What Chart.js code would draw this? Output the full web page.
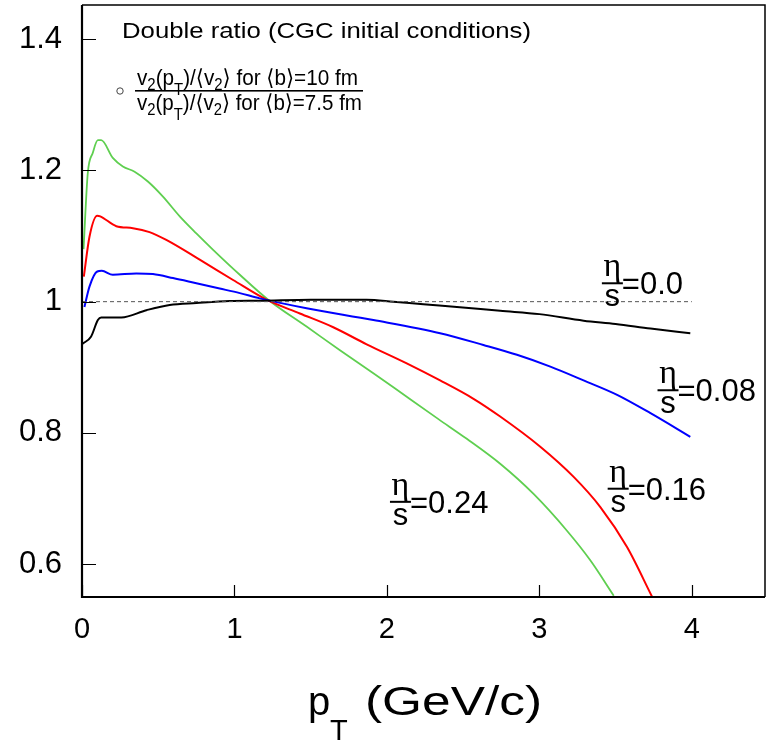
<!DOCTYPE html>
<html>
<head>
<meta charset="utf-8">
<script src="https://cdn.jsdelivr.net/npm/chart.js@4.4.1/dist/chart.umd.min.js"></script>
<style>
html, body { margin: 0; padding: 0; background: #fff; }
canvas { display: block; }
</style>
</head>
<body>
<canvas id="grafico" width="768" height="743"></canvas>
<script>
// Datos: pT (GeV/c) y doble cociente para cada eta/s
var ptNegro = [0.005, 0.06, 0.104, 0.126, 0.258, 0.422, 0.575, 0.75, 0.969, 1.166, 1.5, 1.867, 2.042, 2.239, 2.459, 2.743, 3.0, 3.29, 3.5, 3.729, 3.99];
var ratioNegro = [0.936, 0.947, 0.972, 0.976, 0.976, 0.987, 0.995, 0.998, 1.001, 1.0015, 1.003, 1.003, 1.0, 0.996, 0.992, 0.986, 0.981, 0.971, 0.966, 0.959, 0.952];

var ptAzul = [0.016, 0.049, 0.1, 0.13, 0.202, 0.356, 0.465, 0.597, 0.75, 0.903, 1.035, 1.166, 1.473, 1.911, 2.349, 2.633, 2.853, 3.072, 3.29, 3.51, 3.729, 3.99];
var ratioAzul = [0.992, 1.023, 1.046, 1.047, 1.041, 1.043, 1.042, 1.036, 1.028, 1.020, 1.013, 1.005, 0.990, 0.972, 0.952, 0.934, 0.919, 0.901, 0.880, 0.858, 0.830, 0.794];

var ptRojo = [0.012, 0.049, 0.1, 0.12, 0.225, 0.334, 0.443, 0.553, 0.772, 0.991, 1.21, 1.429, 1.648, 1.867, 2.13, 2.349, 2.568, 2.743, 3.006, 3.225, 3.4, 3.575, 3.74];
var ratioRojo = [1.038, 1.099, 1.131, 1.130, 1.115, 1.112, 1.106, 1.094, 1.064, 1.033, 1.003, 0.982, 0.961, 0.935, 0.906, 0.880, 0.852, 0.825, 0.779, 0.733, 0.687, 0.626, 0.55];

var ptVerde = [0.01, 0.038, 0.071, 0.104, 0.126, 0.202, 0.268, 0.345, 0.432, 0.531, 0.641, 0.75, 0.86, 1.035, 1.221, 1.473, 1.692, 1.911, 2.13, 2.338, 2.524, 2.743, 2.962, 3.181, 3.334, 3.488];
var ratioVerde = [1.08, 1.196, 1.227, 1.246, 1.246, 1.219, 1.206, 1.198, 1.183, 1.160, 1.130, 1.104, 1.079, 1.041, 1.003, 0.962, 0.926, 0.891, 0.855, 0.821, 0.791, 0.753, 0.707, 0.651, 0.606, 0.552];

// linea de referencia en 1
var ptRef = [0, 4];
var ratioRef = [1, 1];

var etaS = ['0.0', '0.08', '0.16', '0.24'];
var xTicks = [0, 1, 2, 3, 4];
var yTicks = [0.6, 0.8, 1, 1.2, 1.4];

// donde va cada etiqueta eta/s (en unidades del eje)
var posEtiquetas = [[3.41, 1.028], [3.775, 0.865], [3.448, 0.715], [2.02, 0.695]];

function puntos(xs, ys) {
    var p = [];
    for (var i = 0; i < xs.length; i++) {
        p.push({x: xs[i], y: ys[i]});
    }
    return p;
}

function curva(xs, ys, color, ancho) {
    return {
        data: puntos(xs, ys),
        showLine: true,
        borderColor: color,
        borderWidth: ancho,
        pointRadius: 0,
        cubicInterpolationMode: 'monotone',
        fill: false
    };
}

// texto ajustado a un ancho
function textoAjustado(ctx, txt, x, y, fuente, ancho) {
    ctx.font = fuente;
    var w = ctx.measureText(txt).width;
    ctx.save();
    ctx.translate(x, y);
    ctx.scale(ancho / w, 1);
    ctx.fillText(txt, 0, 0);
    ctx.restore();
}

// texto con subindices: partes = [[texto, desplazamiento o 0]]
function textoRico(ctx, partes, x, y, tam, ancho) {
    var total = 0, i;
    for (i = 0; i < partes.length; i++) {
        ctx.font = (partes[i][1] ? tam * 0.72 : tam) + 'px "Liberation Sans", Arial, "DejaVu Sans"';
        total += ctx.measureText(partes[i][0]).width;
    }
    var sx = ancho / total;
    ctx.save();
    ctx.translate(x, y);
    ctx.scale(sx, 1);
    var cx = 0;
    for (i = 0; i < partes.length; i++) {
        ctx.font = (partes[i][1] ? tam * 0.72 : tam) + 'px "Liberation Sans", Arial, "DejaVu Sans"';
        ctx.fillText(partes[i][0], cx, partes[i][1] * tam);
        cx += ctx.measureText(partes[i][0]).width;
    }
    ctx.restore();
}

function etiquetaEta(ctx, px, py, valor) {
    ctx.fillStyle = '#000';
    ctx.textAlign = 'center';
    ctx.textBaseline = 'alphabetic';
    ctx.font = '34px "Liberation Serif", "DejaVu Serif"';
    ctx.fillText('\u03b7', px + 10.5, py - 7);
    ctx.font = '31px "Liberation Sans", Arial';
    ctx.fillText('s', px + 10.5, py + 23);
    ctx.fillRect(px, py - 1, 21, 2);
    ctx.textAlign = 'left';
    ctx.font = '31px "Liberation Sans", Arial';
    ctx.fillText('=' + valor, px + 20, py + 11);
}

var marco = {
    id: 'marco',
    afterDraw: function (chart) {
        var ctx = chart.ctx, a = chart.chartArea;
        var x = chart.scales.x, y = chart.scales.y;
        ctx.save();
        ctx.strokeStyle = '#000';
        // ejes
        ctx.lineWidth = 1.5;
        ctx.beginPath();
        ctx.moveTo(a.left, a.top);
        ctx.lineTo(a.right, a.top);
        ctx.lineTo(a.right, a.bottom);
        ctx.stroke();
        ctx.lineWidth = 2.2;
        ctx.beginPath();
        ctx.moveTo(a.left, a.top);
        ctx.lineTo(a.left, a.bottom);
        ctx.lineTo(a.right, a.bottom);
        ctx.stroke();
        // marcas hacia dentro
        ctx.lineWidth = 1.2;
        ctx.beginPath();
        for (var i = 0; i < yTicks.length; i++) {
            var py = Math.round(y.getPixelForValue(yTicks[i])) + 0.5;
            ctx.moveTo(a.left, py);
            ctx.lineTo(a.left + 14, py);
        }
        for (var j = 0; j < xTicks.length; j++) {
            var px = Math.round(x.getPixelForValue(xTicks[j])) + 0.5;
            ctx.moveTo(px, a.bottom);
            ctx.lineTo(px, a.bottom - 12);
        }
        ctx.stroke();

        // etiquetas eta/s
        for (var k = 0; k < etaS.length; k++) {
            etiquetaEta(ctx, x.getPixelForValue(posEtiquetas[k][0]), y.getPixelForValue(posEtiquetas[k][1]), etaS[k]);
        }

        // titulo interior y leyenda
        ctx.fillStyle = '#000';
        ctx.textAlign = 'left';
        ctx.textBaseline = 'alphabetic';
        textoAjustado(ctx, 'Double ratio (CGC initial conditions)', a.left + 40, a.top + 33, '22px "Liberation Sans", Arial', 409);
        var num = [['v', 0], ['2', 0.22], ['(p', 0], ['T', 0.45], [')/\u27e8v', 0], ['2', 0.22], ['\u27e9 for \u27e8b\u27e9=10 fm', 0]];
        var den = [['v', 0], ['2', 0.22], ['(p', 0], ['T', 0.45], [')/\u27e8v', 0], ['2', 0.22], ['\u27e9 for \u27e8b\u27e9=7.5 fm', 0]];
        textoRico(ctx, num, a.left + 55, a.top + 80, 22, 221);
        textoRico(ctx, den, a.left + 55, a.top + 105, 22, 225);
        ctx.fillRect(a.left + 53, a.top + 85, 228, 1.6);
        ctx.strokeStyle = '#444';
        ctx.lineWidth = 1;
        ctx.beginPath();
        ctx.arc(a.left + 38, a.top + 86, 3.2, 0, Math.PI * 2);
        ctx.stroke();

        // titulo del eje x
        ctx.font = '40px "Liberation Sans", Arial';
        ctx.fillText('p', 308, 715);
        ctx.font = '29px "Liberation Sans", Arial';
        ctx.fillText('T', 330, 740);
        textoAjustado(ctx, '(GeV/c)', 365, 715, '40px "Liberation Sans", Arial', 177);
        ctx.restore();
    }
};

var ctx = document.getElementById('grafico');
var grafico = new Chart(ctx, {
    type: 'scatter',
    data: {
        datasets: [
            {
                data: puntos(ptRef, ratioRef),
                showLine: true,
                borderColor: '#555',
                borderWidth: 1,
                borderDash: [4, 3],
                pointRadius: 0
            },
            curva(ptNegro, ratioNegro, '#000000', 2),
            curva(ptAzul, ratioAzul, '#0000ff', 2),
            curva(ptRojo, ratioRojo, '#ff0000', 2),
            curva(ptVerde, ratioVerde, '#5fcf50', 1.8)
        ]
    },
    options: {
        responsive: false,
        animation: false,
        layout: { padding: { top: 5, right: 3, left: 0, bottom: 0 } },
        plugins: {
            legend: { display: false },
            tooltip: { enabled: false }
        },
        scales: {
            x: {
                type: 'linear',
                min: 0,
                max: 4.48,
                grid: { display: false, drawTicks: false },
                border: { display: false },
                afterBuildTicks: function (scale) {
                    scale.ticks = xTicks.map(function (v) { return {value: v}; });
                },
                afterFit: function (scale) {
                    scale.height = 146;
                    scale.paddingLeft = 0;
                    scale.paddingRight = 0;
                },
                ticks: {
                    color: '#000',
                    padding: 16,
                    maxRotation: 0,
                    font: { family: '"Liberation Sans", Arial', size: 29 },
                    callback: function (v) { return String(v); }
                }
            },
            y: {
                type: 'linear',
                min: 0.55,
                max: 1.452,
                grid: { display: false, drawTicks: false },
                border: { display: false },
                afterBuildTicks: function (scale) {
                    scale.ticks = yTicks.map(function (v) { return {value: v}; });
                },
                afterFit: function (scale) {
                    scale.width = 82;
                    scale.paddingTop = 0;
                    scale.paddingBottom = 0;
                },
                ticks: {
                    color: '#000',
                    padding: 20,
                    font: { family: '"Liberation Sans", Arial', size: 31 },
                    callback: function (v) { return v === 1 ? '1' : v.toFixed(1); }
                }
            }
        }
    },
    plugins: [marco]
});
</script>
</body>
</html>
